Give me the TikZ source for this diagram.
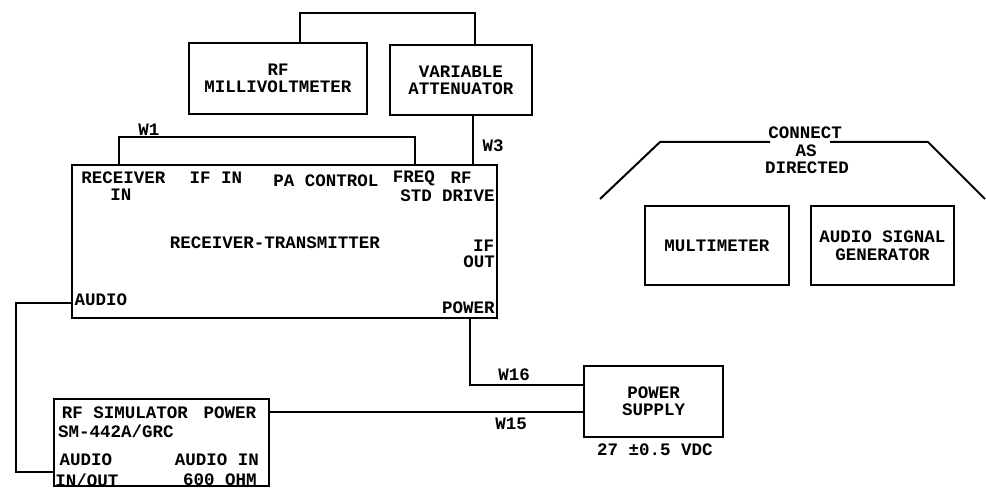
\documentclass[tikz,border=0pt]{standalone}
\usepackage{fontspec}
\setmonofont{Liberation Mono}
\begin{document}
\begin{tikzpicture}[x=1pt,y=-1pt,
  every node/.style={font=\ttfamily\bfseries\fontsize{17.5}{17}\selectfont, inner sep=0pt},
  box/.style={draw, line width=2.2pt, align=center},
  wire/.style={line width=2pt, line join=miter},
  lbl/.style={}]
\useasboundingbox[fill=white] (0,0) rectangle (986,489);

% boxes
\node[box, minimum width=178pt, minimum height=71pt] (mv) at (278,78.5) {RF\\MILLIVOLTMETER};
\node[box, minimum width=142pt, minimum height=70pt] (att) at (461,80) {VARIABLE\\ATTENUATOR};
\node[box, minimum width=425pt, minimum height=153pt] (rt) at (284.5,241.5) {};
\node[box, minimum width=215pt, minimum height=87pt] (sim) at (161.5,442.5) {};
\node[box, minimum width=139pt, minimum height=71pt] (ps) at (653.5,401.5) {POWER\\SUPPLY};
\node[box, minimum width=144pt, minimum height=79pt] (mm) at (717,245.5) {MULTIMETER};
\node[box, minimum width=143pt, minimum height=79pt] (asg) at (882.5,245.5) {AUDIO SIGNAL\\[1pt]GENERATOR};

% receiver-transmitter labels
\node[lbl] (lrecv) at (123.5,178) {RECEIVER};
\node[lbl] (lrecvin) at (121,195) {IN};
\node[lbl] (lifin) at (216,178) {IF IN};
\node[lbl] (lpa) at (326,181) {PA CONTROL};
\node[lbl] (lfreq) at (414,178) {FREQ};
\node[lbl] (lstd) at (416,196) {STD};
\node[lbl] (lrf) at (461,178) {RF};
\node[lbl] (ldrive) at (468.5,196) {DRIVE};
\node[lbl] (lrt) at (275,243) {RECEIVER-TRANSMITTER};
\node[lbl] (lif) at (483.5,246) {IF};
\node[lbl] (lout) at (479,262) {OUT};
\node[lbl] (laudio) at (101,300) {AUDIO};
\node[lbl] (lpower) at (468.5,308) {POWER};

% simulator labels
\node[lbl] (lsim) at (125,413) {RF SIMULATOR};
\node[lbl] (lspow) at (230,413) {POWER};
\node[lbl] (lsm) at (116,431) {SM-442A/GRC};
\node[lbl] (lsaud) at (86,460) {AUDIO};
\node[lbl] (lsio) at (87,480) {IN/OUT};
\node[lbl] (lsai) at (217,460) {AUDIO IN};
\node[lbl] (lsohm) at (220,480) {600 OHM};

% power supply rating
\node[lbl] (lvdc) at (655,450) {27 ±0.5 VDC};

% wire labels
\node[lbl] (lw1) at (149,130) {W1};
\node[lbl] (lw3) at (493,146) {W3};
\node[lbl] (lw16) at (514,375) {W16};
\node[lbl] (lw15) at (511,424) {W15};

% connect as directed
\node[lbl] (lconn) at (805,133) {CONNECT};
\node[lbl] (las) at (806,151) {AS};
\node[lbl] (ldir) at (807,168) {DIRECTED};

% coordinates
\coordinate (ta) at (300,13);
\coordinate (tb) at (475,13);
\coordinate (w1a) at (119,137);
\coordinate (w1b) at (415,137);
\coordinate (w3) at (473,0);
\coordinate (a1) at (16,303);
\coordinate (a2) at (16,472);
\coordinate (p1) at (470,385);
\coordinate (q1) at (0,412);
\coordinate (c1) at (600,199);
\coordinate (c2) at (660,142);
\coordinate (c3) at (770,142);
\coordinate (c4) at (830,142);
\coordinate (c5) at (928,142);
\coordinate (c6) at (985,199);

% connectors
\draw[wire] (mv.north -| ta) -- (ta) -- (tb) -- (att.north -| tb);
\draw[wire] (rt.north -| w1a) -- (w1a) -- (w1b) -- (rt.north -| w1b);
\draw[wire] (att.south -| w3) -- (rt.north -| w3);
\draw[wire] (rt.west |- a1) -- (a1) -- (a2) -- (sim.west |- a2);
\draw[wire] (rt.south -| p1) -- (p1) -- (ps.west |- p1);
\draw[wire] (sim.east |- q1) -- (ps.west |- q1);
\draw[wire] (c1) -- (c2) -- (c3);
\draw[wire] (c4) -- (c5) -- (c6);
\end{tikzpicture}
\end{document}
